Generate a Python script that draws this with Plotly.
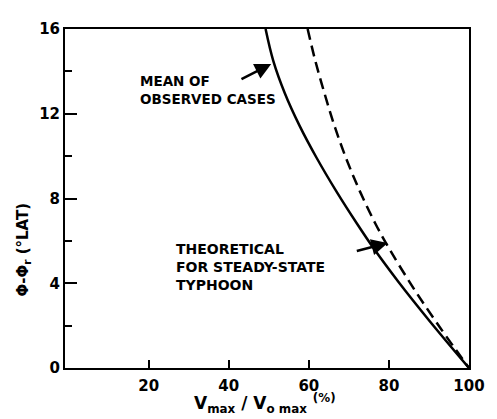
import plotly.graph_objects as go

# Mean of observed cases (solid)
obs_x = [49.2, 51.1, 54.0, 57.7, 62.0, 66.8, 72.0, 76.4, 82.4, 90.2, 100]
obs_y = [16.0, 14.51, 12.97, 11.43, 9.90, 8.36, 6.82, 5.59, 4.06, 2.21, 0.0]

# Theoretical for steady-state typhoon (dashed)
theo_x = [59.7, 61.6, 63.9, 66.4, 69.3, 72.7, 76.6, 80.2, 86.2, 92.8, 100]
theo_y = [16.0, 14.51, 12.97, 11.43, 9.90, 8.36, 6.82, 5.59, 3.75, 1.90, 0.0]

x_ticks = [20, 40, 60, 80, 100]
y_ticks = [0, 4, 8, 12, 16]

FONT = "DejaVu Sans"

fig = go.Figure()
fig.add_trace(go.Scatter(x=obs_x, y=obs_y, mode="lines",
                         line=dict(color="black", width=2.5, shape="spline", smoothing=1.0),
                         showlegend=False, hoverinfo="skip"))
fig.add_trace(go.Scatter(x=theo_x, y=theo_y, mode="lines",
                         line=dict(color="black", width=2.5, dash="11px,6px", shape="spline", smoothing=1.0),
                         showlegend=False, hoverinfo="skip"))

annotations = [
    dict(text="MEAN OF<br>OBSERVED CASES", x=17.3, y=13.1, xref="x", yref="y",
         xanchor="left", yanchor="middle", align="left", showarrow=False,
         font=dict(family=FONT, size=13.5, color="black", weight="bold")),
    dict(text="THEORETICAL<br>FOR STEADY-STATE<br>TYPHOON", x=26.4, y=4.75, xref="x", yref="y",
         xanchor="left", yanchor="middle", align="left", showarrow=False,
         font=dict(family=FONT, size=14, color="black", weight="bold")),
    dict(text="", x=50.6, y=14.35, ax=42.8, ay=13.6, xref="x", yref="y", axref="x", ayref="y",
         showarrow=True, arrowhead=2, arrowsize=1.3, arrowwidth=2.5, arrowcolor="black"),
    dict(text="", x=79.7, y=5.9, ax=71.6, ay=5.5, xref="x", yref="y", axref="x", ayref="y",
         showarrow=True, arrowhead=2, arrowsize=1.3, arrowwidth=2.5, arrowcolor="black"),
    dict(text="Φ-Φ<sub>r</sub> (°LAT)", x=-0.102, y=0.349, xref="paper", yref="paper",
         textangle=-90, showarrow=False, xanchor="center", yanchor="middle",
         font=dict(family=FONT, size=15, color="black", weight="bold")),
    dict(text="V<sub>max</sub> / V<sub>o max</sub> <sup>(%)</sup>", x=0.496, y=-0.106,
         xref="paper", yref="paper", showarrow=False, xanchor="center", yanchor="middle",
         font=dict(family=FONT, size=17, color="black", weight="bold")),
]

# The page body adds an 8px margin, so the figure is 8px smaller and margins shifted.
fig.update_layout(
    width=489, height=411,
    margin=dict(l=57, r=21, t=13, b=51),
    paper_bgcolor="white", plot_bgcolor="white",
    annotations=annotations,
    xaxis=dict(range=[-0.9, 100], tickvals=x_ticks, ticktext=[str(v) for v in x_ticks],
               ticks="inside", ticklen=8, tickwidth=2, tickcolor="black",
               showline=True, linewidth=2, linecolor="black", mirror=True,
               showgrid=False, zeroline=False,
               tickfont=dict(family=FONT, size=15, color="black", weight="bold"),
               ticklabelstandoff=3),
    yaxis=dict(range=[0, 16], tickvals=y_ticks, ticktext=[str(v) for v in y_ticks],
               ticks="inside", ticklen=12, tickwidth=2, tickcolor="black",
               minor=dict(dtick=2, tick0=0, ticks="inside", ticklen=7, tickwidth=2, tickcolor="black"),
               showline=True, linewidth=2, linecolor="black", mirror=True,
               showgrid=False, zeroline=False,
               tickfont=dict(family=FONT, size=15, color="black", weight="bold")),
)

fig.write_html("out.html")
